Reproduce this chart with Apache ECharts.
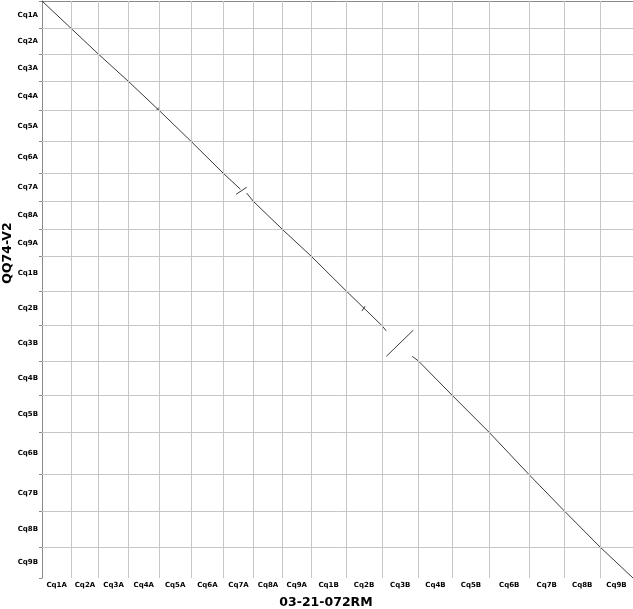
<!DOCTYPE html>
<html>
<head>
<meta charset="utf-8">
<script src="https://cdn.jsdelivr.net/npm/echarts@6/dist/echarts.min.js"></script>
<style>
  html, body { margin: 0; padding: 0; background: #fff; }
  #main { width: 633px; height: 609px; }
</style>
</head>
<body>
<div id="main"></div>
<script type="text/javascript">
// chromosomes and lengths (Mb) of the two assemblies
var xChroms = ['Cq1A','Cq2A','Cq3A','Cq4A','Cq5A','Cq6A','Cq7A','Cq8A','Cq9A',
               'Cq1B','Cq2B','Cq3B','Cq4B','Cq5B','Cq6B','Cq7B','Cq8B','Cq9B'];
var xLengths = [64.5, 60.1, 66.0, 66.9, 71.1, 71.1, 66.0, 63.8, 62.5,
                77.7, 78.5, 80.5, 74.8, 81.4, 87.3, 77.7, 78.5, 72.6];
var yChroms = xChroms.slice();
var yLengths = [62.1, 57.8, 61.4, 64.6, 70.4, 72.0, 63.0, 63.0, 59.4,
                78.8, 77.9, 79.7, 77.9, 83.3, 94.5, 81.9, 81.0, 69.8];

// alignment segments: [xChrom, xStart, xEnd, yChrom, yStart, yEnd] (Mb)
var segments = [
  ['Cq1A', 0, 64.5, 'Cq1A', 0, 62.1],
  ['Cq2A', 0, 60.1, 'Cq2A', 0, 57.8],
  ['Cq3A', 0, 66.0, 'Cq3A', 0, 61.4],
  ['Cq4A', 0, 66.9, 'Cq4A', 0, 64.6],
  ['Cq4A', 62.0, 66.5, 'Cq4A', 64.0, 58.5],
  ['Cq5A', 0, 71.1, 'Cq5A', 0, 70.4],
  ['Cq6A', 0, 71.1, 'Cq6A', 0, 72.0],
  ['Cq7A', 0, 37.0, 'Cq7A', 0, 35.3],
  ['Cq7A', 27.7, 50.8, 'Cq7A', 46.6, 30.9],
  ['Cq7A', 50.8, 66.0, 'Cq7A', 44.0, 63.0],
  ['Cq8A', 0, 63.8, 'Cq8A', 0, 63.0],
  ['Cq9A', 0, 62.5, 'Cq9A', 0, 59.4],
  ['Cq1B', 0, 77.7, 'Cq1B', 0, 78.8],
  ['Cq2B', 0, 78.5, 'Cq2B', 0, 77.9],
  ['Cq2B', 34.5, 41.6, 'Cq2B', 45.2, 34.3],
  ['Cq3B', 0, 9.7, 'Cq3B', 0, 12.0],
  ['Cq3B', 9.7, 69.2, 'Cq3B', 69.3, 10.4],
  ['Cq3B', 66.8, 80.5, 'Cq3B', 69.3, 79.7],
  ['Cq4B', 0, 74.8, 'Cq4B', 0, 77.9],
  ['Cq5B', 0, 81.4, 'Cq5B', 0, 83.3],
  ['Cq6B', 0, 87.3, 'Cq6B', 0, 94.5],
  ['Cq7B', 0, 77.7, 'Cq7B', 0, 81.9],
  ['Cq8B', 0, 78.5, 'Cq8B', 0, 81.0],
  ['Cq9B', 0, 72.6, 'Cq9B', 0, 69.8]
];

// cumulative offsets
function offsets(lengths) {
  var out = [0];
  lengths.forEach(function (l) { out.push(out[out.length - 1] + l); });
  return out;
}
var xBounds = offsets(xLengths);
var yBounds = offsets(yLengths);
var xMids = xLengths.map(function (l, i) { return xBounds[i] + l / 2; });
var yMids = yLengths.map(function (l, i) { return yBounds[i] + l / 2; });
var xTotal = xBounds[xBounds.length - 1];
var yTotal = yBounds[yBounds.length - 1];

function nameAt(mids, names, v) {
  var best = 0;
  mids.forEach(function (m, i) { if (Math.abs(m - v) < Math.abs(mids[best] - v)) best = i; });
  return names[best];
}

var lineData = segments.map(function (s) {
  var xo = xBounds[xChroms.indexOf(s[0])];
  var yo = yBounds[yChroms.indexOf(s[3])];
  return { coords: [[xo + s[1], yo + s[4]], [xo + s[2], yo + s[5]]] };
});

var gridLines = [];
xBounds.slice(1, -1).forEach(function (v) { gridLines.push({ xAxis: v }); });
yBounds.slice(1, -1).forEach(function (v) { gridLines.push({ yAxis: v }); });

var myChart = echarts.init(document.getElementById('main'));
var labelStyle = { fontFamily: 'DejaVu Sans', fontWeight: 'bold', fontSize: 7, color: '#000' };

var option = {
  animation: false,
  grid: { left: 42, top: 1, right: 0, bottom: 31 },
  xAxis: {
    type: 'value', min: 0, max: xTotal,
    axisLine: { show: true, lineStyle: { color: '#8a8a8a', width: 1 } },
    axisTick: { show: true, length: 3, customValues: xBounds, lineStyle: { color: '#8a8a8a' } },
    axisLabel: Object.assign({
      customValues: xMids, margin: 4,
      formatter: function (v) { return nameAt(xMids, xChroms, v); }
    }, labelStyle),
    splitLine: { show: false }
  },
  yAxis: {
    type: 'value', min: 0, max: yTotal, inverse: true,
    axisLine: { show: true, lineStyle: { color: '#8a8a8a', width: 1 } },
    axisTick: { show: true, length: 3, customValues: yBounds, lineStyle: { color: '#8a8a8a' } },
    axisLabel: Object.assign({
      customValues: yMids, margin: 4,
      formatter: function (v) { return nameAt(yMids, yChroms, v); }
    }, labelStyle),
    splitLine: { show: false }
  },
  graphic: [
    { type: 'text', left: 326, top: 603, style: { text: '03-21-072RM', x: 0, y: 0,
      font: 'bold 12.5px "DejaVu Sans"', fill: '#000', align: 'center', verticalAlign: 'middle' },
      left: null, top: null, x: 326, y: 603 },
    { type: 'text', x: 8, y: 253, rotation: Math.PI / 2,
      style: { text: 'QQ74-V2', font: 'bold 12.5px "DejaVu Sans"', fill: '#000',
        align: 'center', verticalAlign: 'middle' } }
  ],
  series: [
    {
      type: 'lines',
      coordinateSystem: 'cartesian2d',
      silent: true,
      lineStyle: { color: '#3a3a3a', width: 1, opacity: 1 },
      data: lineData,
      markLine: {
        silent: true, symbol: 'none', animation: false,
        label: { show: false },
        lineStyle: { color: '#c6c6c6', width: 1, type: 'solid' },
        data: gridLines
      },
      z: 3
    }
  ]
};
myChart.setOption(option);
</script>
</body>
</html>
